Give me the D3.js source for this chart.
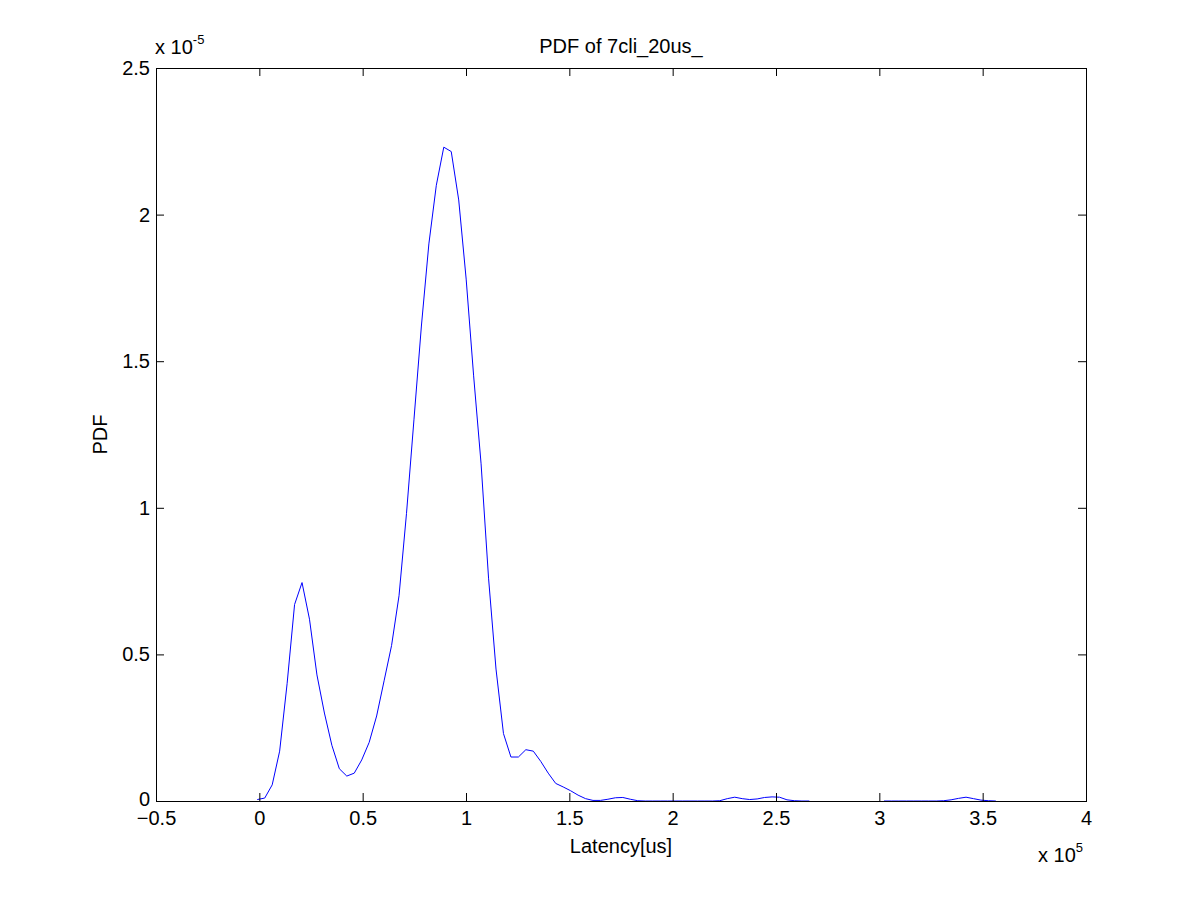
<!DOCTYPE html>
<html>
<head>
<meta charset="utf-8">
<script src="https://cdn.jsdelivr.net/npm/d3@7"></script>
<style>
    body { margin: 0; background: #fff; }
    svg text { font-family: "Liberation Sans", Arial, sans-serif; fill: #000; }
</style>
</head>
<body>
<div id="chart"></div>
<script>
// latency grid, in units of 1e5 us (100 points from -0.01 to 3.564)
const xStart = -0.010,
    xStep = 0.0361;

// PDF values, in units of 1e-5 (null = not drawn)
const pdfValues = [
    0.005, 0.010, 0.055, 0.170, 0.400, 0.670, 0.745, 0.620, 0.430, 0.300,
    0.190, 0.110, 0.085, 0.095, 0.140, 0.200, 0.290, 0.410, 0.530, 0.700,
    0.980, 1.300, 1.620, 1.900, 2.100, 2.230, 2.215, 2.050, 1.780, 1.450,
    1.150, 0.760, 0.450, 0.230, 0.150, 0.150, 0.175, 0.170, 0.135, 0.095,
    0.060, 0.048, 0.035, 0.020, 0.008, 0.002, 0.002, 0.006, 0.011, 0.012,
    0.006, 0.001, 0.000, 0.000, 0.000, 0.000, 0.000, 0.000, 0.000, 0.000,
    0.000, 0.000, 0.001, 0.008, 0.013, 0.008, 0.005, 0.007, 0.012, 0.014,
    0.013, 0.004, 0.001, 0.000, 0.000, null, null, null, null, null,
    null, null, null, null, 0.000, 0.000, 0.000, 0.000, 0.000, 0.000,
    0.000, 0.000, 0.001, 0.004, 0.009, 0.013, 0.008, 0.003, 0.001, 0.000
];

const xTicks = [-0.5, 0, 0.5, 1, 1.5, 2, 2.5, 3, 3.5, 4];
const yTicks = [0, 0.5, 1, 1.5, 2, 2.5];

const titleText = 'PDF of 7cli_20us_',
    xLabel = 'Latency[us]',
    yLabel = 'PDF';

const width = 1200,
    height = 900,
    margins = { left: 156, top: 68, right: 114, bottom: 99 },
    plotW = width - margins.left - margins.right,
    plotH = height - margins.top - margins.bottom,
    fontSize = '20px',
    supSize = '13px';

const svg = d3.select('#chart').append('svg')
    .attr('width', width)
    .attr('height', height);

const scaleX = d3.scaleLinear().domain([-0.5, 4]).range([0, plotW]);
const scaleY = d3.scaleLinear().domain([0, 2.5]).range([plotH, 0]);

const wrap = svg.append('g')
    .attr('transform', 'translate(' + margins.left + ', ' + margins.top + ')');

const points = pdfValues.map((v, i) => ({ x: xStart + i * xStep, y: v }));

// curve
const line = d3.line()
    .defined(d => d.y !== null)
    .x(d => scaleX(d.x))
    .y(d => scaleY(d.y));

wrap.append('path')
    .datum(points)
    .attr('fill', 'none')
    .attr('stroke', '#0000ff')
    .attr('stroke-width', 1)
    .attr('d', line);

// Axises (MATLAB-style box with inward ticks)
const tickLen = 8;

const axisBottom = d3.axisBottom(scaleX)
    .tickValues(xTicks)
    .tickSizeInner(-tickLen)
    .tickSizeOuter(0)
    .tickPadding(10)
    .tickFormat(d3.format('~g'));

const axisTop = d3.axisTop(scaleX)
    .tickValues(xTicks)
    .tickSizeInner(-tickLen)
    .tickSizeOuter(0)
    .tickFormat('');

const axisLeft = d3.axisLeft(scaleY)
    .tickValues(yTicks)
    .tickSizeInner(-tickLen)
    .tickSizeOuter(0)
    .tickPadding(6)
    .tickFormat(d3.format('~g'));

const axisRight = d3.axisRight(scaleY)
    .tickValues(yTicks)
    .tickSizeInner(-tickLen)
    .tickSizeOuter(0)
    .tickFormat('');

wrap.append('g').attr('class', 'axis')
    .attr('transform', 'translate(0, ' + plotH + ')')
    .call(axisBottom);
wrap.append('g').attr('class', 'axis').call(axisTop);
wrap.append('g').attr('class', 'axis').call(axisLeft);
wrap.append('g').attr('class', 'axis')
    .attr('transform', 'translate(' + plotW + ', 0)')
    .call(axisRight);

wrap.selectAll('.axis .domain').remove();
wrap.selectAll('.axis line').attr('stroke', '#000');
wrap.selectAll('.axis text')
    .style('font-size', fontSize)
    .style('font-family', '"Liberation Sans", Arial, sans-serif')
    .attr('fill', '#000');

// lift the y "0" label a touch so it clears the "-0.5" below it
wrap.selectAll('.axis text').filter(d => d === 0 && yTicks.includes(d))
    .filter(function () { return this.getAttribute('x') !== null && +this.getAttribute('x') < 0; })
    .attr('dy', '0.2em');

wrap.append('rect')
    .attr('width', plotW)
    .attr('height', plotH)
    .attr('fill', 'none')
    .attr('stroke', '#000')
    .attr('stroke-width', 1)
    .attr('shape-rendering', 'crispEdges');

// labels
svg.append('text')
    .attr('x', margins.left + plotW / 2)
    .attr('y', 53)
    .attr('text-anchor', 'middle')
    .style('font-size', fontSize)
    .text(titleText);

svg.append('text')
    .attr('x', margins.left + plotW / 2)
    .attr('y', 853)
    .attr('text-anchor', 'middle')
    .style('font-size', fontSize)
    .text(xLabel);

svg.append('text')
    .attr('transform', 'translate(107, ' + (margins.top + plotH / 2) + ') rotate(-90)')
    .attr('text-anchor', 'middle')
    .style('font-size', fontSize)
    .text(yLabel);

// exponent labels
const expY = svg.append('text')
    .attr('x', 155)
    .attr('y', 54)
    .style('font-size', fontSize);
expY.append('tspan').text('x 10');
expY.append('tspan').attr('dy', -10).style('font-size', supSize).text('-5');

const expX = svg.append('text')
    .attr('x', 1038)
    .attr('y', 862)
    .style('font-size', fontSize);
expX.append('tspan').text('x 10');
expX.append('tspan').attr('dy', -10).style('font-size', supSize).text('5');
</script>
</body>
</html>
